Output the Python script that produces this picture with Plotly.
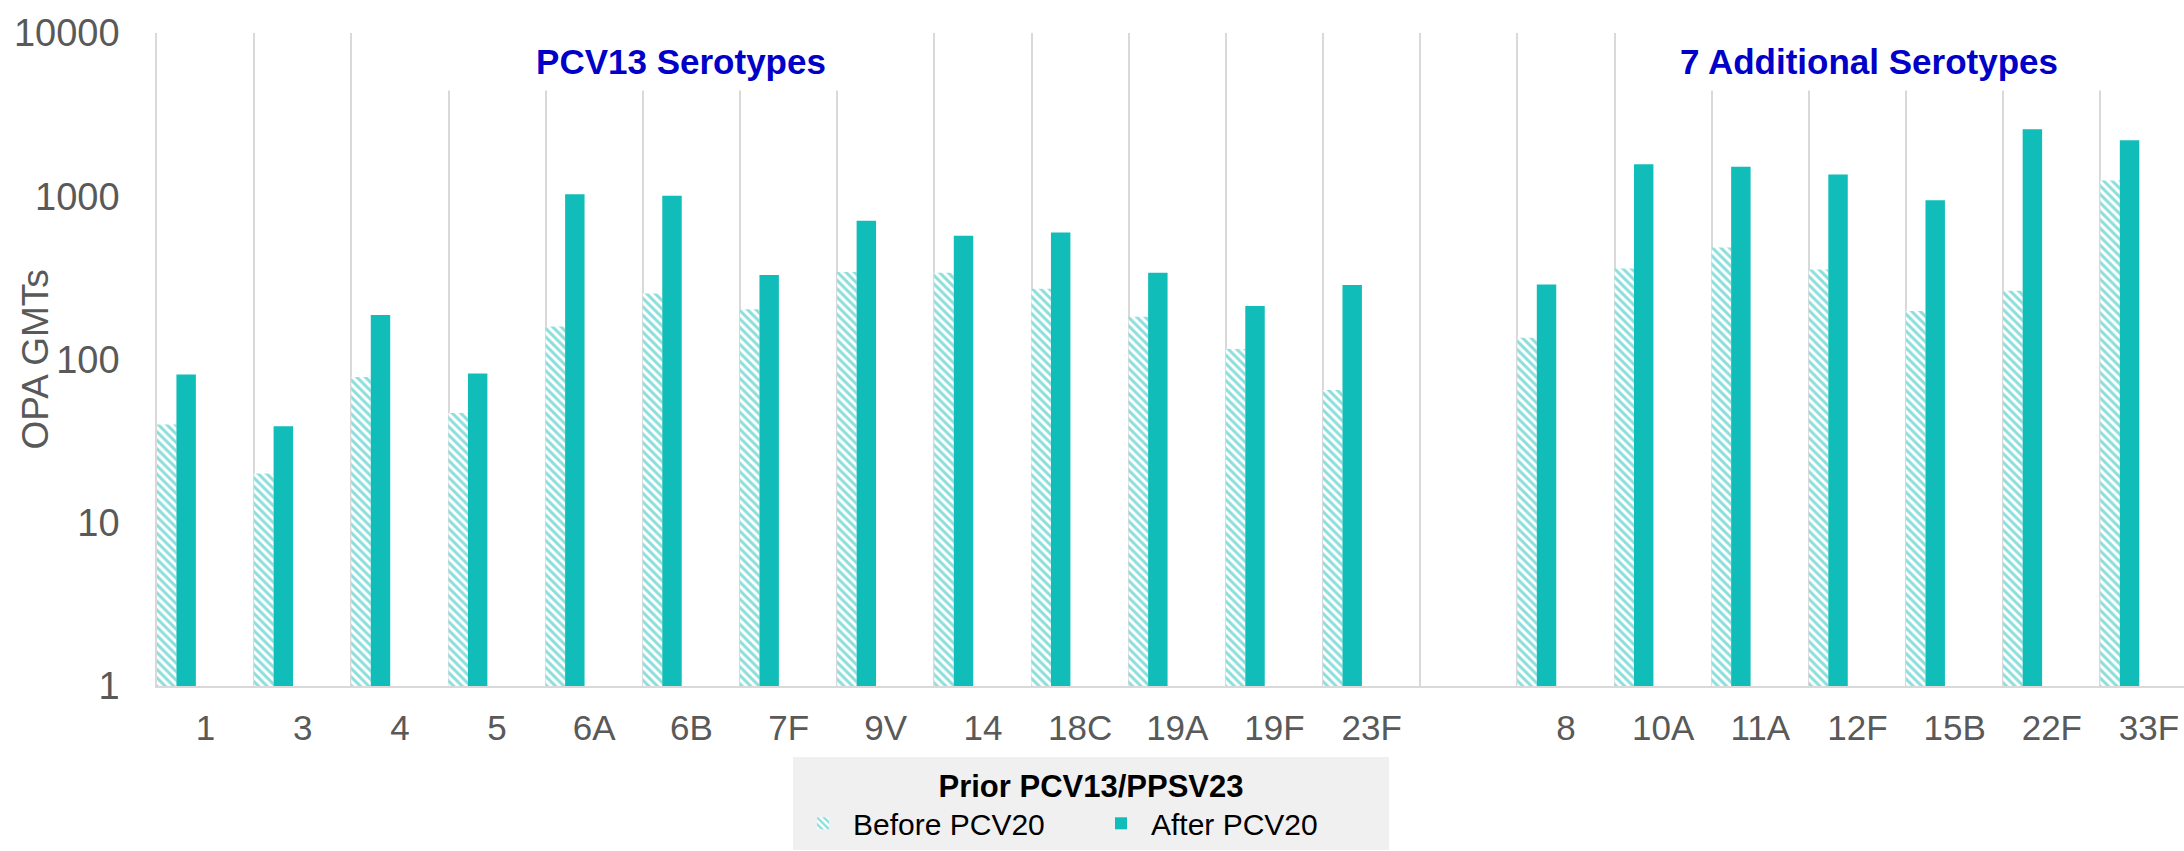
import plotly.graph_objects as go

# ---- data ----
pcv13_serotypes = ["1", "3", "4", "5", "6A", "6B", "7F", "9V", "14", "18C", "19A", "19F", "23F"]
pcv13_before = [40, 20, 78, 47, 159, 254, 203, 344, 340, 271, 183, 116, 65]
pcv13_after = [81, 39, 187, 82, 1030, 1006, 329, 707, 572, 600, 340, 213, 286]

additional_serotypes = ["8", "10A", "11A", "12F", "15B", "22F", "33F"]
additional_before = [136, 361, 486, 356, 198, 264, 1250]
additional_after = [288, 1573, 1514, 1359, 946, 2575, 2205]

gap_label = [" "]
categories = pcv13_serotypes + gap_label + additional_serotypes
before_vals = pcv13_before + [None] + additional_before
after_vals = pcv13_after + [None] + additional_after

y_tickvals = [1, 10, 100, 1000, 10000]
y_ticktext = ["1", "10", "100", "1000", "10000"]

series_names = ["Before PCV20", "After PCV20"]
legend_title = "Prior PCV13/PPSV23"
group_titles = ["PCV13 Serotypes", "7 Additional Serotypes"]
y_title = "OPA GMTs"

# ---- style ----
FONT = "Liberation Sans, Arial, sans-serif"
TEAL = "#10BDB8"
GRID = "#D9D9D9"
TXT = "#595959"

W, H = 2184, 851
ML, MR, MT, MB = 157, 0, 33, 165

fig = go.Figure()
fig.add_trace(go.Bar(
    x=categories, y=before_vals, name=series_names[0],
    offset=-0.5, width=0.2,
    marker=dict(color="white", line=dict(width=0),
                pattern=dict(shape="\\", fgcolor="#17BDB8", bgcolor="white",
                             size=6, solidity=0.5)),
))
fig.add_trace(go.Bar(
    x=categories, y=after_vals, name=series_names[1],
    offset=-0.3, width=0.2,
    marker=dict(color=TEAL, line=dict(width=0)),
))

plot_w = W - ML - MR
cat_px = 97.17
x_max = -0.5 + plot_w / cat_px

fig.update_layout(
    width=W, height=H,
    margin=dict(l=ML, r=MR, t=MT, b=MB, pad=0),
    paper_bgcolor="white", plot_bgcolor="white",
    barmode="overlay",
    font=dict(family=FONT, color=TXT),
    showlegend=True,
    legend=dict(
        orientation="h", xref="container", yref="container",
        x=793 / W, xanchor="left", y=1 - 757 / H, yanchor="top",
        bgcolor="#F0F0F0", borderwidth=0,
        font=dict(size=30, color="#000000", family=FONT),
        itemwidth=50, entrywidth=233,
    ),
    xaxis=dict(
        type="category", categoryorder="array", categoryarray=categories,
        range=[-0.5, x_max],
        tickson="boundaries", ticks="", showgrid=True, gridcolor=GRID, gridwidth=1.5,
        showline=True, linecolor=GRID, linewidth=2, zeroline=False,
        tickfont=dict(size=35, color=TXT, family=FONT),
        ticklabelstandoff=10,
    ),
    yaxis=dict(
        type="log", range=[0, 4], tickvals=y_tickvals, ticktext=y_ticktext,
        showgrid=False, zeroline=False, showline=True, linecolor=GRID, linewidth=1.5,
        ticks="", tickfont=dict(size=38, color=TXT, family=FONT),
        ticklabelstandoff=28,
    ),
)
fig.update_layout(legend_title_text=legend_title,
                  legend_title_side="top center",
                  legend_title_font=dict(size=31, color="#000000", family=FONT, weight="bold"))

# group headers (white boxes over the gridlines)
header_centers_px = [681, 1869]
for txt, cx in zip(group_titles, header_centers_px):
    fig.add_annotation(
        text="<b>" + txt + "</b>", xref="paper", yref="paper",
        x=(cx - ML) / plot_w, y=1 - (61.5 - MT) / (H - MT - MB),
        xanchor="center", yanchor="middle", showarrow=False,
        width=480, height=55, bgcolor="white", borderpad=1,
        font=dict(size=35, color="#0000C8", family=FONT),
    )

# y axis title
fig.add_annotation(
    text=y_title, xref="paper", yref="paper",
    x=(35 - ML) / plot_w, y=0.5, xanchor="center", yanchor="middle",
    textangle=-90, showarrow=False,
    font=dict(size=37, color=TXT, family=FONT),
)

fig.write_html(
    "out.html",
    config={"displayModeBar": False},
    post_script="document.body.style.margin='0';document.body.style.overflow='hidden';",
)
